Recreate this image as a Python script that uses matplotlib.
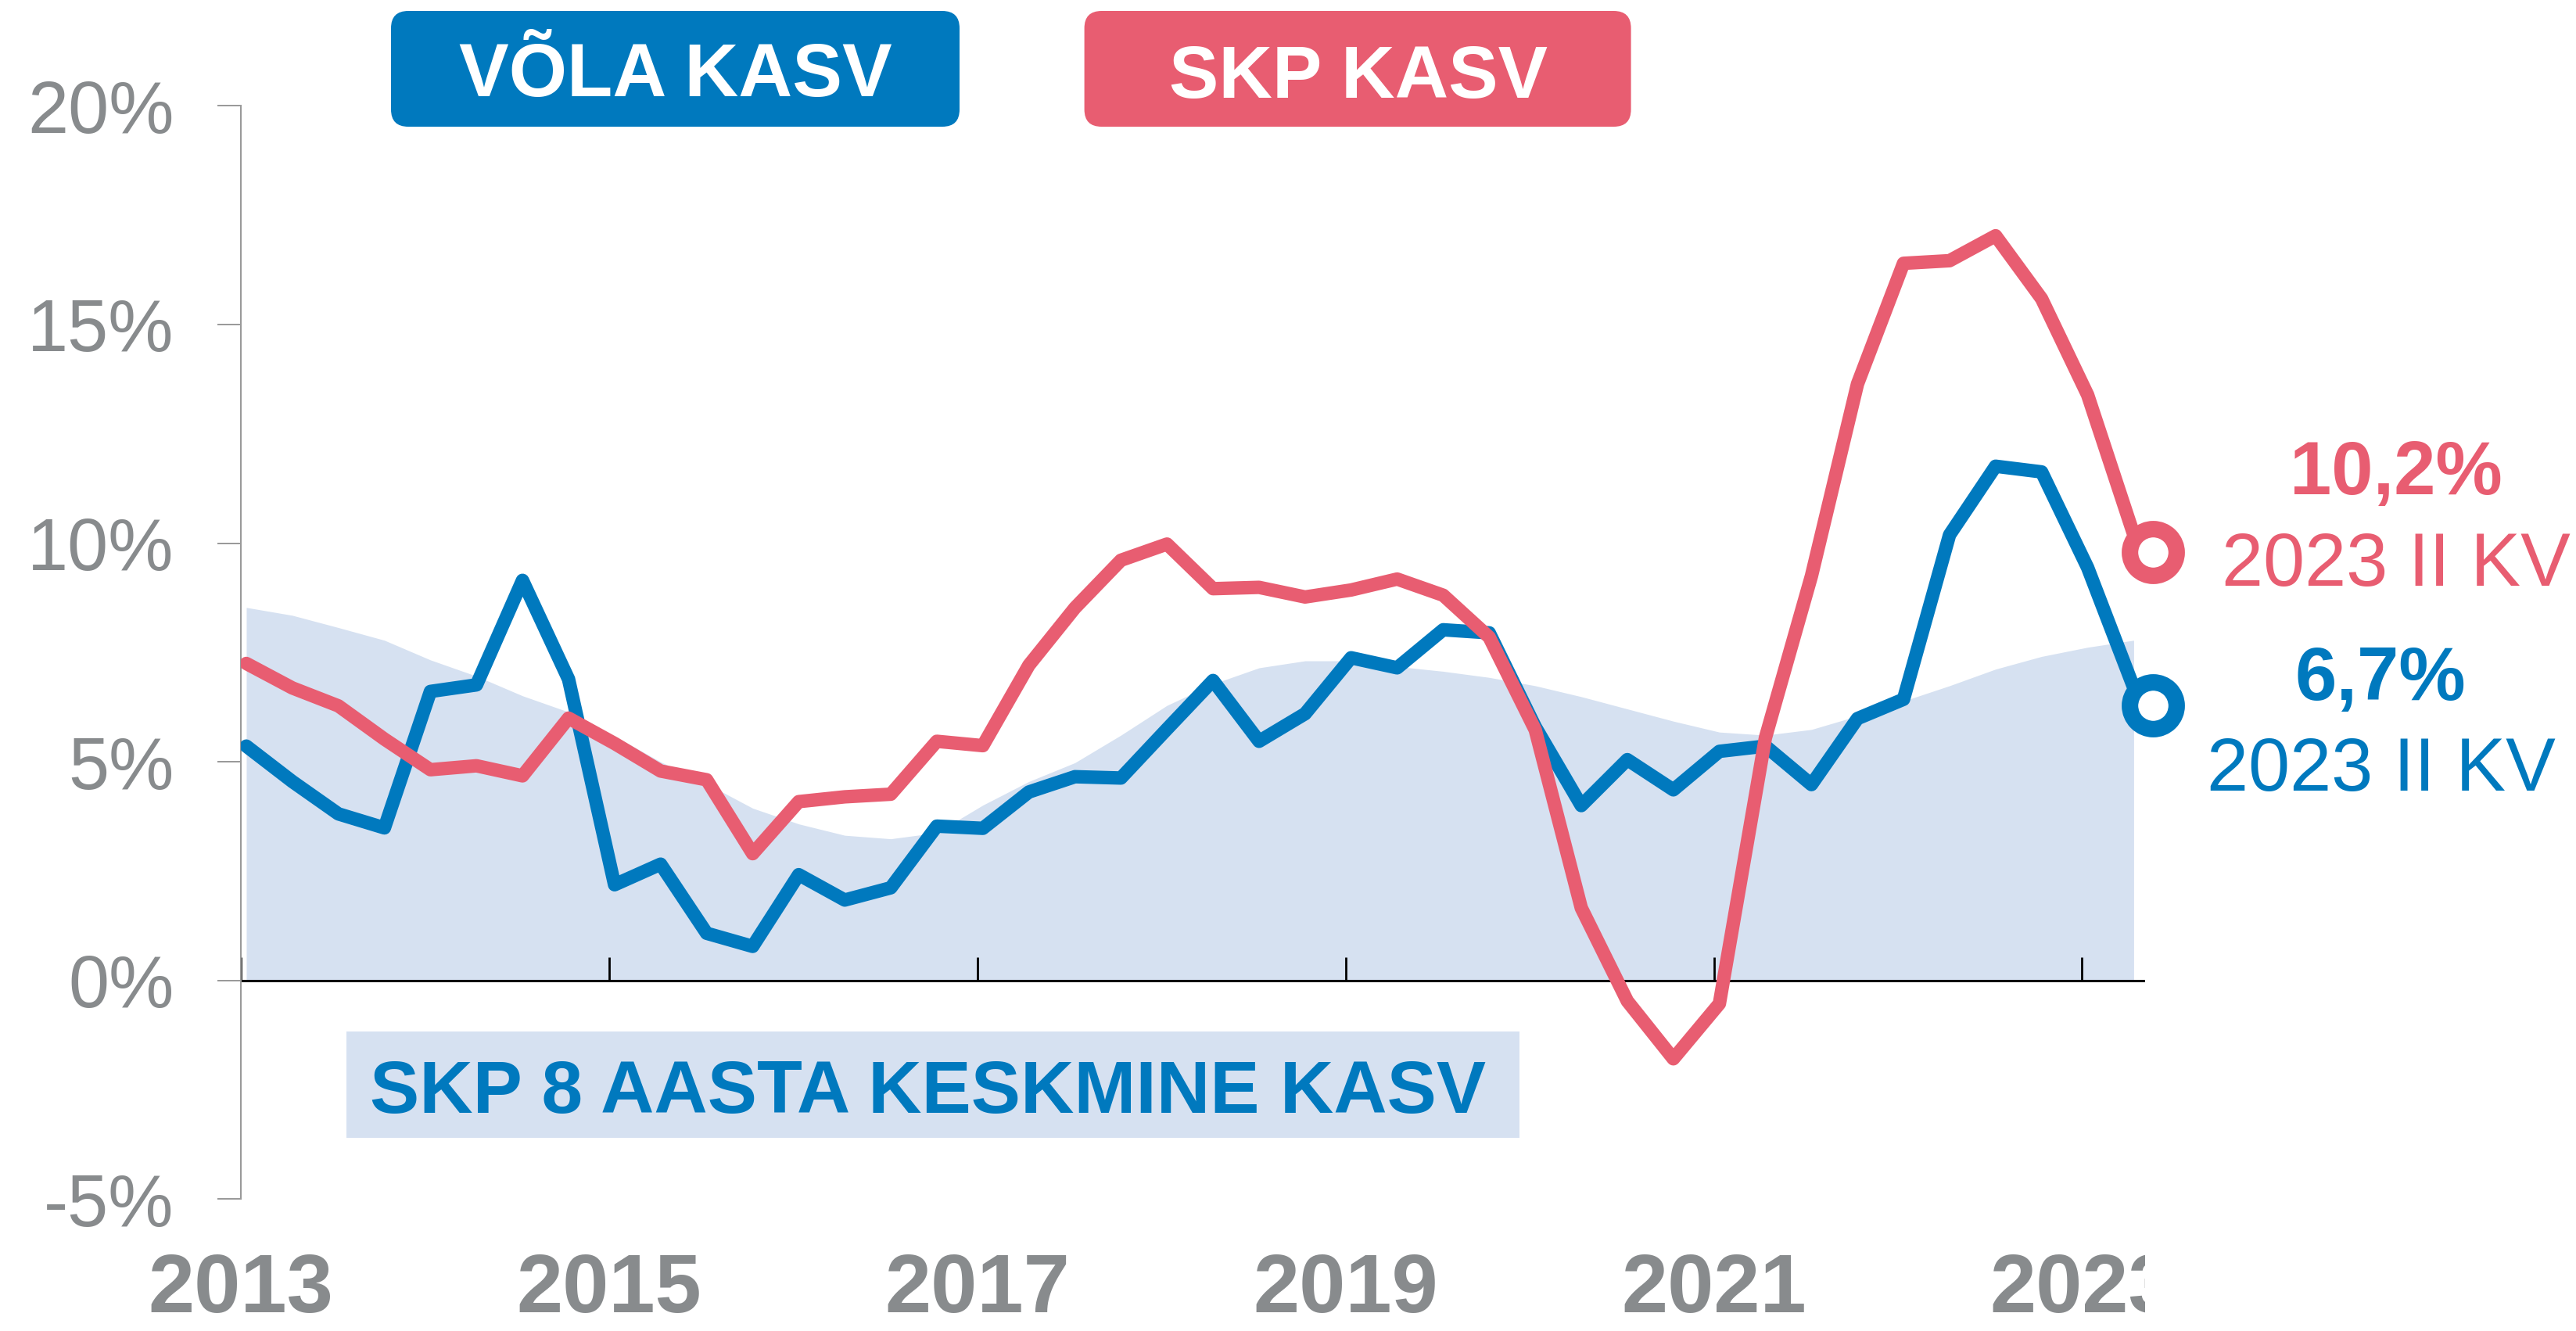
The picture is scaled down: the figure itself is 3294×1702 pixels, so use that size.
import matplotlib
matplotlib.use("Agg")
import matplotlib.pyplot as plt
import numpy as np
from matplotlib.patches import FancyBboxPatch, Rectangle
from matplotlib import transforms

plt.rcParams['font.family'] = ['Liberation Sans', 'DejaVu Sans']

# ---------------- data ----------------
quarters = [f"{y}Q{q}" for y in range(2013, 2024) for q in range(1, 5)][:42]  # 2013Q1 .. 2023Q2

debt_growth = [5.36, 4.55, 3.81, 3.49, 6.61, 6.76, 9.15, 6.89, 2.19, 2.66,
               1.08, 0.78, 2.42, 1.84, 2.12, 3.53, 3.48, 4.31, 4.66, 4.63,
               5.75, 6.86, 5.47, 6.10, 7.38, 7.15, 8.02, 7.95, 5.80, 4.00,
               5.05, 4.36, 5.24, 5.36, 4.48, 5.99, 6.43, 10.19, 11.76, 11.63,
               9.44, 6.70]

gdp_growth = [7.25, 6.69, 6.28, 5.52, 4.82, 4.91, 4.68, 6.00, 5.42, 4.79,
              4.59, 2.90, 4.09, 4.20, 4.26, 5.47, 5.37, 7.21, 8.52, 9.61,
              9.98, 8.96, 8.99, 8.77, 8.93, 9.18, 8.81, 7.85, 5.73, 1.66,
              -0.47, -1.79, -0.53, 5.55, 9.25, 13.64, 16.40, 16.46, 17.03, 15.59,
              13.39, 10.20]

gdp_avg8 = [8.53, 8.35, 8.07, 7.78, 7.33, 6.96, 6.51, 6.14, 5.59, 5.00,
            4.50, 3.94, 3.58, 3.32, 3.24, 3.38, 4.01, 4.55, 4.98, 5.61,
            6.29, 6.78, 7.15, 7.31, 7.31, 7.18, 7.07, 6.93, 6.74, 6.49,
            6.21, 5.93, 5.68, 5.61, 5.74, 6.05, 6.39, 6.74, 7.12, 7.41,
            7.62, 7.78]

year_ticks = [2013, 2015, 2017, 2019, 2021, 2023]
ytick_vals = [-5, 0, 5, 10, 15, 20]

label_debt = "VÕLA KASV"
label_gdp = "SKP KASV"
label_avg = "SKP 8 AASTA KESKMINE KASV"
last_gdp_txt = "10,2%"
last_debt_txt = "6,7%"
last_period_txt = "2023 II KV"

# ---------------- style ----------------
BLUE = "#0079BE"
RED = "#E85D71"
AREA = "#D6E1F1"
GRAY = "#888B8D"
GRAY_AX = "#9A9A9A"
W, H, DPI = 3294, 1702, 200
QOFF = 0.03
LW = 6.2

x = np.array([int(s[:4]) + (int(s[-1]) - 1) / 4 for s in quarters]) + QOFF

fig = plt.figure(figsize=(W / DPI, H / DPI), dpi=DPI)
ax = fig.add_axes([307.9 / W, 1 - 1533.4 / H, (2743 - 307.9) / W, (1533.4 - 135.4) / H])
ax.set_facecolor("none")
ax.set_xlim(2013.0, 2023.342)
ax.set_ylim(-5, 20)

for s in ["top", "right", "bottom"]:
    ax.spines[s].set_visible(False)
ax.spines["left"].set_color(GRAY_AX)
ax.spines["left"].set_linewidth(0.72)

ax.set_yticks(ytick_vals)
ax.set_yticklabels([f"{v}%" for v in ytick_vals])
ax.tick_params(axis="y", length=10.8, width=0.72, color=GRAY_AX, labelcolor=GRAY,
               labelsize=33.7, pad=20)
ax.set_xticks([])

# area
ax.fill_between(x, 0, gdp_avg8, color=AREA, lw=0, zorder=1)
# zero line and year ticks
ax.axhline(0, color="black", lw=1.1, zorder=2)
ax.plot(year_ticks, [0] * len(year_ticks), ls="none", marker=2, markersize=10.8,
        mew=1.0, color="black", zorder=2, clip_on=False)

# lines
ax.plot(x, debt_growth, color=BLUE, lw=LW, solid_joinstyle="round",
        solid_capstyle="round", zorder=3)
ax.plot(x, gdp_growth, color=RED, lw=LW, solid_joinstyle="round",
        solid_capstyle="round", zorder=4)

# end markers (slightly offset down-right from last point)
off = transforms.ScaledTranslation(25 / DPI, -23 / DPI, fig.dpi_scale_trans)
for series, col in [(debt_growth, BLUE), (gdp_growth, RED)]:
    ax.plot([x[-1]], [series[-1]], marker="o", ms=21.5, mew=7.6, mfc="white",
            mec=col, ls="none", transform=ax.transData + off, clip_on=False, zorder=6)

# year labels, clipped at the right edge of the axes
ytrans = transforms.blended_transform_factory(ax.transData, fig.transFigure)
clip_trans = transforms.blended_transform_factory(ax.transAxes, fig.transFigure)
clipbox = transforms.TransformedBbox(transforms.Bbox([[-1, 0], [1, 1]]), clip_trans)
for yr in year_ticks:
    t = ax.text(yr, 1 - 1678 / H, str(yr), transform=ytrans, ha="center", va="baseline",
                fontsize=38.3, fontweight="bold", color=GRAY, clip_on=True)
    t.set_clip_box(clipbox)

# overlay in pixel coordinates for boxes and labels
ov = fig.add_axes([0, 0, 1, 1], zorder=5)
ov.set_xlim(0, W)
ov.set_ylim(H, 0)
ov.axis("off")
ov.patch.set_visible(False)

ov.add_patch(FancyBboxPatch((500, 14), 727, 148, boxstyle="round,pad=0,rounding_size=22",
                            fc=BLUE, ec="none"))
ov.text(863.5, 123.4, label_debt, ha="center", va="baseline", color="white",
        fontsize=34.4, fontweight="bold")

ov.add_patch(FancyBboxPatch((1386.6, 14), 699, 148, boxstyle="round,pad=0,rounding_size=22",
                            fc=RED, ec="none"))
ov.text(1737, 125, label_gdp, ha="center", va="baseline", color="white",
        fontsize=34.2, fontweight="bold")

ov.add_patch(Rectangle((443, 1319), 1500, 136, fc=AREA, ec="none"))
ov.text(1187, 1422.5, label_avg, ha="center", va="baseline", color=BLUE,
        fontsize=34.1, fontweight="bold")

ov.text(3064, 632, last_gdp_txt, ha="center", va="baseline", color=RED,
        fontsize=34.5, fontweight="bold")
ov.text(3064, 748.7, last_period_txt, ha="center", va="baseline", color=RED,
        fontsize=34.4)
ov.text(3044, 895, last_debt_txt, ha="center", va="baseline", color=BLUE,
        fontsize=34.5, fontweight="bold")
ov.text(3044.6, 1011.2, last_period_txt, ha="center", va="baseline", color=BLUE,
        fontsize=34.4)

fig.savefig("out.png", dpi=DPI)
